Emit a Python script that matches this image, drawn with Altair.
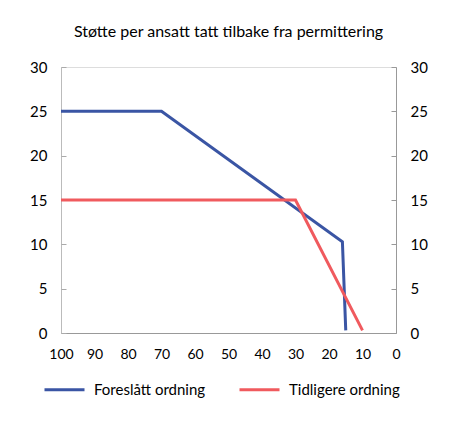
import altair as alt
import pandas as pd

# andel tatt tilbake (x) og støtte (y)
blue_x = [100, 70, 16, 15]
blue_y = [25, 25, 10.3, 0.3]
red_x = [100, 30, 10]
red_y = [15, 15, 0.3]
series = ["Foreslått ordning", "Tidligere ordning"]
colors = ["#3A55A4", "#F05A5E"]
y_ticks = [0, 5, 10, 15, 20, 25, 30]
x_ticks = [100, 90, 80, 70, 60, 50, 40, 30, 20, 10, 0]

rows = []
for i, (x, y) in enumerate(zip(blue_x, blue_y)):
    rows.append({"x": x, "y": y, "serie": series[0], "o": i})
for i, (x, y) in enumerate(zip(red_x, red_y)):
    rows.append({"x": x, "y": y, "serie": series[1], "o": i})
df = pd.DataFrame(rows)
ticks = pd.DataFrame({"t": y_ticks})

W, H = 335, 266
font = "Lato"

xscale = alt.Scale(domain=[100, 0], nice=False)
yscale = alt.Scale(domain=[0, 30], nice=False)

lines = alt.Chart(df).mark_line(strokeWidth=3).encode(
    x=alt.X("x:Q", scale=xscale, axis=alt.Axis(
        values=x_ticks, labelPadding=14, domainColor="#999",
        labelOverlap=False, labelFlush=False, labelFontSize=14)),
    y=alt.Y("y:Q", scale=yscale, axis=alt.Axis(
        values=y_ticks, labelPadding=14, domainColor="#bbb", orient="left")),
    color=alt.Color("serie:N", scale=alt.Scale(domain=series, range=colors),
                    legend=alt.Legend(title=None, orient="none", legendX=-18, legendY=301,
                                      direction="horizontal", symbolType="stroke",
                                      symbolSize=1600, symbolStrokeWidth=3,
                                      labelFontSize=15, labelColor="#000",
                                      columnPadding=27, labelOffset=8)),
    order="o:Q",
)

right_axis = alt.Chart(ticks).mark_rule(opacity=0).encode(
    y=alt.Y("t:Q", scale=yscale, axis=alt.Axis(
        values=y_ticks, labelPadding=14, domainColor="#999", orient="right")),
)

# inward tick marks, drawn as extra axes shifted into the plot
left_ticks = alt.Chart(ticks).mark_rule(opacity=0).encode(
    y=alt.Y("t:Q", scale=yscale, axis=alt.Axis(
        values=y_ticks, orient="left", offset=-5, labels=False, domain=False,
        ticks=True, tickSize=5, tickColor="#aaa")),
)
right_ticks = alt.Chart(ticks).mark_rule(opacity=0).encode(
    y=alt.Y("t:Q", scale=yscale, axis=alt.Axis(
        values=y_ticks, orient="right", offset=-5, labels=False, domain=False,
        ticks=True, tickSize=5, tickColor="#999")),
)

chart = alt.layer(lines, right_axis, left_ticks, right_ticks).resolve_axis(
    y="independent"
).properties(
    width=W, height=H,
    title=alt.Title("Støtte per ansatt tatt tilbake fra permittering",
                    fontSize=16, fontWeight="normal", offset=20, color="#000"),
    autosize=alt.AutoSizeParams(type="none"),
    padding={"left": 53, "top": 59, "right": 56, "bottom": 81},
).configure_view(stroke=None).configure(font=font).configure_axis(
    grid=False, ticks=False, title=None, labelFontSize=15, labelColor="#000"
)

chart.save("out.html", embed_options={"renderer": "svg", "actions": False})
